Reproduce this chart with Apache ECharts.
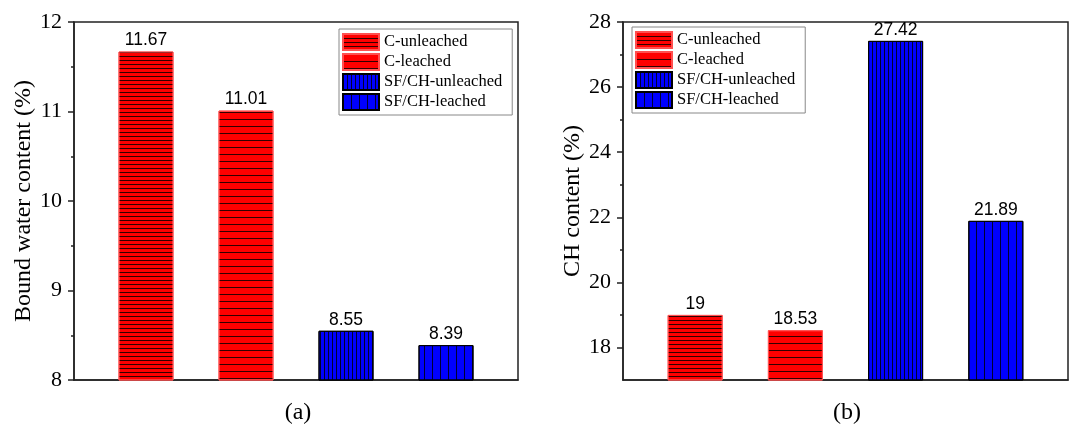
<!DOCTYPE html>
<html><head><meta charset="utf-8">
<script src="https://cdn.jsdelivr.net/npm/echarts@6/dist/echarts.min.js"></script>
<style>html,body{margin:0;padding:0;background:#fff}#c{width:1071px;height:425px}</style>
</head><body><div id="c"></div>
<script>
const categories = ['C-unleached', 'C-leached', 'SF/CH-unleached', 'SF/CH-leached'];
const boundWater = [11.67, 11.01, 8.55, 8.39];
const chContent = [19, 18.53, 27.42, 21.89];
const ticksA = [8, 9, 10, 11, 12];
const ticksB = [18, 20, 22, 24, 26, 28];
const minorB = [19, 21, 23, 25, 27];

const SERIF = 'Liberation Serif';
const SANS = 'Liberation Sans';
const colors = ['#ff0000', '#ff0000', '#0000ff', '#0000ff'];
const lineCol = 'rgba(0,0,0,0.8)';
const decals = [
  {symbol: 'rect', symbolSize: 1, color: lineCol, dashArrayX: [1, 0], dashArrayY: [1, 2.4]},
  {symbol: 'rect', symbolSize: 1, color: lineCol, dashArrayX: [1, 0], dashArrayY: [1, 5.8]},
  {symbol: 'rect', symbolSize: 1, color: lineCol, dashArrayX: [1, 2.4], dashArrayY: [1, 0]},
  {symbol: 'rect', symbolSize: 1, color: lineCol, dashArrayX: [1, 6.5], dashArrayY: [1, 0]}
];
const borders = ['#ff5050', '#ff5050', '#000', '#000'];

function makeSeries(values, xi, yi) {
  return categories.map((name, i) => ({
    type: 'bar', name: name, xAxisIndex: xi, yAxisIndex: yi,
    barWidth: 55, barGap: '-100%',
    data: [[i + 1, values[i]]],
    itemStyle: {color: colors[i], decal: decals[i], borderColor: borders[i], borderWidth: 1},
    label: {show: true, position: 'top', distance: 2, color: '#000', fontFamily: SANS, fontSize: 17.5,
            formatter: p => String(p.value[1])}
  }));
}

const axisLineStyle = {color: '#222', width: 1.5};
const legendBase = {orient: 'vertical', data: categories, icon: 'rect', itemWidth: 36, itemHeight: 16,
  itemGap: 2, padding: [4, 10, 4, 3], borderColor: '#888', borderWidth: 1, selectedMode: false,
  textStyle: {fontFamily: SERIF, fontSize: 16.5, lineHeight: 16, color: '#000'}};
const chart = echarts.init(document.getElementById('c'), null, {renderer: 'canvas'});
chart.setOption({
  animation: false,
  backgroundColor: '#fff',
  grid: [
    {left: 74, top: 22, width: 444, height: 358, show: true, borderColor: '#222', borderWidth: 1.5, backgroundColor: 'transparent'},
    {left: 623, top: 22, width: 445, height: 358, show: true, borderColor: '#222', borderWidth: 1.5, backgroundColor: 'transparent'}
  ],
  xAxis: [
    {type: 'value', gridIndex: 0, min: 0.28, max: 4.72, axisLine: {show: true, lineStyle: axisLineStyle},
     axisTick: {show: false}, axisLabel: {show: false}, splitLine: {show: false}},
    {type: 'value', gridIndex: 1, min: 0.28, max: 4.72, axisLine: {show: true, lineStyle: axisLineStyle},
     axisTick: {show: false}, axisLabel: {show: false}, splitLine: {show: false}}
  ],
  yAxis: [
    {type: 'value', gridIndex: 0, min: 8, max: 12, interval: 1,
     name: 'Bound water content (%)', nameLocation: 'middle', nameGap: 37,
     nameTextStyle: {fontFamily: SERIF, fontSize: 24, color: '#000'},
     axisLine: {show: true, lineStyle: axisLineStyle},
     axisTick: {show: true, length: 6, lineStyle: axisLineStyle, customValues: ticksA},
     minorTick: {show: true, splitNumber: 2, length: 3, lineStyle: axisLineStyle},
     axisLabel: {fontFamily: SERIF, fontSize: 22, color: '#000', margin: 12, customValues: ticksA},
     splitLine: {show: false}},
    {type: 'value', gridIndex: 1, min: 17, max: 28, interval: 1,
     name: 'CH content (%)', nameLocation: 'middle', nameGap: 37,
     nameTextStyle: {fontFamily: SERIF, fontSize: 24, color: '#000'},
     axisLine: {show: true, lineStyle: axisLineStyle},
     axisTick: {show: true, length: 6, lineStyle: axisLineStyle, customValues: ticksB},
     axisLabel: {fontFamily: SERIF, fontSize: 22, color: '#000', margin: 12, customValues: ticksB},
     splitLine: {show: false}},
    {type: 'value', gridIndex: 1, min: 17, max: 28, interval: 1, position: 'left', offset: 0,
     axisLine: {show: false},
     axisTick: {show: true, length: 3, lineStyle: axisLineStyle, customValues: minorB},
     axisLabel: {show: false}, splitLine: {show: false}}
  ],
  legend: [
    Object.assign({left: 339, top: 29}, legendBase),
    Object.assign({left: 632, top: 27}, legendBase)
  ],
  graphic: [
    {type: 'text', x: 298, y: 413, style: {text: '(a)', fontFamily: SERIF, fontSize: 24, fill: '#000', align: 'center', verticalAlign: 'middle'}},
    {type: 'text', x: 847, y: 413, style: {text: '(b)', fontFamily: SERIF, fontSize: 24, fill: '#000', align: 'center', verticalAlign: 'middle'}}
  ],
  series: makeSeries(boundWater, 0, 0).concat(makeSeries(chContent, 1, 1))
});
</script></body></html>
